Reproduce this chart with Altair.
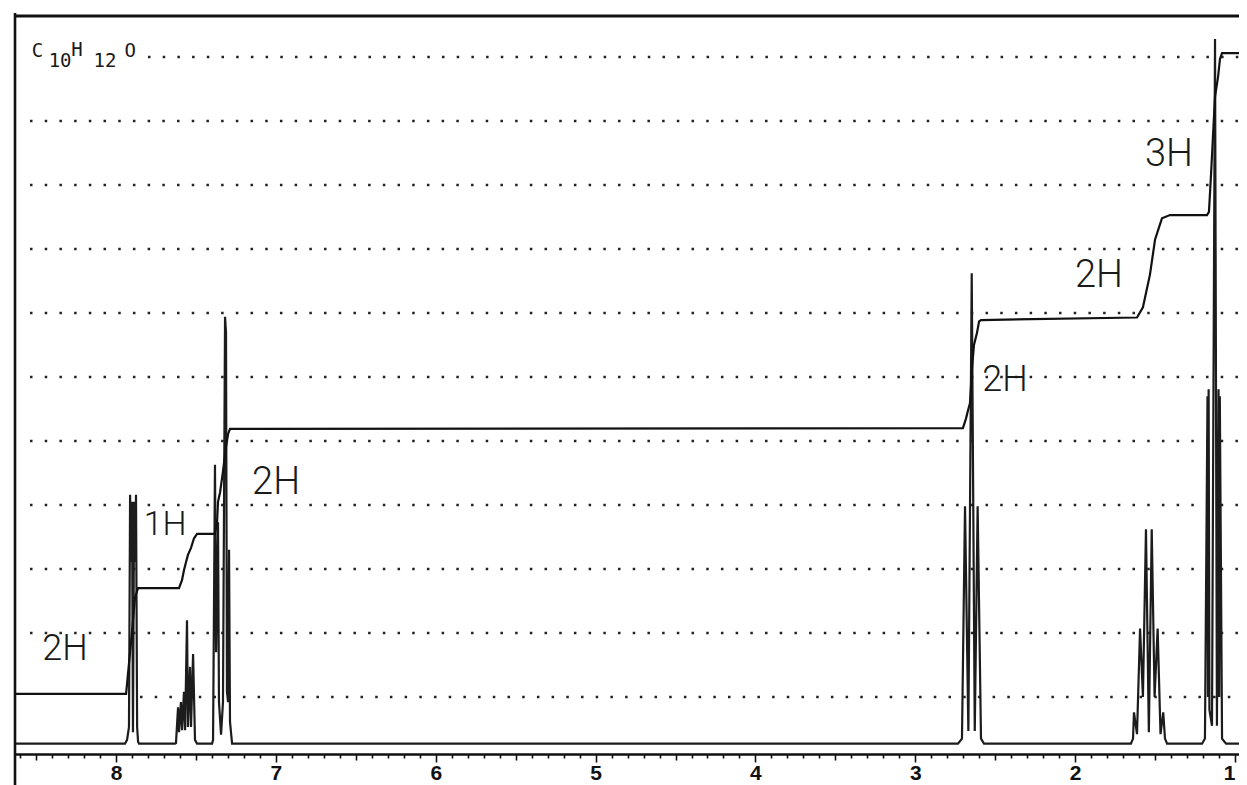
import altair as alt
import pandas as pd

# ---------------- data ----------------
# 1H NMR spectrum trace (chemical shift in ppm, intensity in grid units)
spec_ppm = [8.632, 7.944, 7.931, 7.919, 7.912, 7.906, 7.900, 7.894, 7.887, 7.881, 7.875, 7.868, 7.862, 7.856,
            7.631, 7.625, 7.612, 7.606, 7.594, 7.587, 7.575, 7.568, 7.556, 7.550, 7.537, 7.531, 7.518, 7.506, 7.493,
            7.399, 7.393, 7.381, 7.374, 7.362, 7.356, 7.343, 7.331, 7.318, 7.312, 7.306, 7.299, 7.293, 7.287, 7.274,
            2.733, 2.708, 2.689, 2.668, 2.647, 2.628, 2.610, 2.589, 2.570,
            1.651, 1.638, 1.632, 1.613, 1.594, 1.576, 1.557, 1.539, 1.521, 1.503, 1.484, 1.466, 1.449, 1.438, 1.425,
            1.206, 1.188, 1.172, 1.169, 1.165, 1.160, 1.144, 1.125, 1.113, 1.103, 1.099, 1.095, 1.081, 1.056, 0.975]
spec_int = [0.27, 0.27, 0.33, 0.53, 4.16, 3.11, 4.05, 0.45, 4.05, 3.11, 4.16, 0.53, 0.30, 0.27,
            0.27, 0.28, 0.84, 0.45, 0.92, 0.48, 1.08, 0.48, 2.20, 0.53, 1.47, 0.53, 1.67, 0.33, 0.27,
            0.27, 0.33, 4.63, 1.70, 3.73, 0.92, 0.41, 0.92, 6.94, 6.70, 1.08, 0.92, 3.30, 0.61, 0.27,
            0.27, 0.35, 3.98, 0.47, 7.62, 0.47, 3.98, 0.35, 0.27,
            0.27, 0.35, 0.76, 0.42, 2.07, 1.00, 3.62, 0.45, 3.62, 1.00, 2.07, 0.42, 0.76, 0.35, 0.27,
            0.27, 0.35, 5.70, 1.00, 5.81, 0.80, 0.55, 11.28, 0.55, 5.81, 1.00, 5.70, 0.35, 0.27, 0.27]

# integral trace
integ_ppm = [8.632, 7.937, 7.906, 7.881, 7.862, 7.606, 7.587, 7.575, 7.562, 7.550, 7.531, 7.512, 7.493,
             7.381, 7.368, 7.362, 7.349, 7.331, 7.312, 7.299, 7.287,
             2.702, 2.683, 2.670, 2.658, 2.645, 2.633, 2.614, 2.601, 2.589,
             1.613, 1.576, 1.532, 1.500, 1.457, 1.407,
             1.175, 1.163, 1.150, 1.138, 1.125, 1.106, 1.094, 1.081, 0.975]
integ_val = [1.05, 1.05, 1.86, 2.56, 2.70, 2.70, 2.83, 2.98, 3.11, 3.22, 3.33, 3.48, 3.55,
             3.55, 3.73, 4.05, 4.20, 4.52, 4.91, 5.11, 5.19,
             5.20, 5.35, 5.48, 5.59, 6.14, 6.50, 6.69, 6.87, 6.89,
             6.93, 7.09, 7.60, 8.15, 8.48, 8.53,
             8.53, 8.58, 9.16, 9.75, 10.38, 10.69, 10.97, 11.06, 11.06]

# dotted integration grid
grid_level = [1, 2, 3, 4, 5, 6, 7, 8, 9, 10, 11]
grid_start = [7.85, 8.538, 8.538, 8.538, 8.538, 8.538, 8.538, 8.538, 8.538, 8.538, 7.80]
grid_end = 0.975

# handwritten integration labels
label_text = ["2H", "1H", "2H", "2H", "2H", "3H"]
label_ppm = [8.319, 7.693, 6.999, 2.439, 1.851, 1.413]
label_int = [1.75, 3.69, 4.34, 5.95, 7.58, 9.47]
label_size = [36, 34, 38, 36, 38, 38]

# molecular formula, typed in pieces (subscripts set lower)
formula_text = ["C", "10", "H", "12", "O"]
formula_ppm = [8.491, 8.350, 8.244, 8.069, 7.912]
formula_int = [11.09, 10.94, 11.11, 10.94, 11.09]

tick_labels = [8, 7, 6, 5, 4, 3, 2, 1]
minor_ticks = [round(1.0 + 0.1 * i, 1) for i in range(77)]

X_DOMAIN = [0.975, 8.632]
Y_DOMAIN = [0.109, 11.641]

# ---------------- chart ----------------
spec_df = pd.DataFrame({"ppm": spec_ppm, "intensity": spec_int, "idx": range(len(spec_ppm))})
integ_df = pd.DataFrame({"ppm": integ_ppm, "value": integ_val, "idx": range(len(integ_ppm))})
grid_df = pd.DataFrame({"level": grid_level, "start": grid_start, "end": [grid_end] * len(grid_level)})
label_df = pd.DataFrame({"ppm": label_ppm, "intensity": label_int, "text": label_text, "size": label_size})
formula_df = pd.DataFrame({"ppm": formula_ppm, "intensity": formula_int, "text": formula_text})

xs = alt.Scale(domain=X_DOMAIN, reverse=True, nice=False, zero=False)
ys = alt.Scale(domain=Y_DOMAIN, nice=False, zero=False)

int_test = "abs(datum.value - round(datum.value)) < 0.001"
half_test = "abs(datum.value - round(datum.value)) > 0.499"

x_axis = alt.Axis(
    values=minor_ticks,
    labelExpr=f"{int_test} ? format(datum.value, 'd') : ''",
    tickSize={"condition": [{"test": int_test, "value": 8}, {"test": half_test, "value": 6}], "value": 4},
    labelAlign={"condition": {"test": "datum.value < 1.05", "value": "right"}, "value": "center"},
    title=None,
    grid=False,
    domainColor="#111111",
    domainWidth=2.5,
    tickColor="#111111",
    tickWidth=1.6,
    labelFont="Liberation Sans",
    labelFontSize=21,
    labelFontWeight="bold",
    labelColor="#111111",
    labelPadding=0,
    labelOverlap=False,
    labelFlush=False,
    labelBound=False,
)

X = lambda f: alt.X(f"{f}:Q", scale=xs, axis=x_axis)
Yq = lambda f: alt.Y(f"{f}:Q", scale=ys, axis=None)

grid = alt.Chart(grid_df).mark_rule(
    color="#222222", strokeWidth=2.4, strokeDash=[2.5, 12.2]
).encode(x=X("start"), x2="end:Q", y=Yq("level"))

spectrum = alt.Chart(spec_df).mark_line(
    color="#1c1c1c", strokeWidth=2.2, strokeJoin="miter", interpolate="linear"
).encode(x=X("ppm"), y=Yq("intensity"), order="idx:Q")

integral = alt.Chart(integ_df).mark_line(
    color="#111111", strokeWidth=2.2, interpolate="linear"
).encode(x=X("ppm"), y=Yq("value"), order="idx:Q")

labels = alt.Chart(label_df).mark_text(
    font="Roboto", fontWeight=300, color="#1a1a1a", align="center", baseline="middle"
).encode(x=X("ppm"), y=Yq("intensity"), text="text:N", size=alt.Size("size:Q", scale=None, legend=None))

formula = alt.Chart(formula_df).mark_text(
    font="DejaVu Sans Mono", fontSize=19, color="#1a1a1a", align="center", baseline="middle"
).encode(x=X("ppm"), y=Yq("intensity"), text="text:N")

# frame lines (top and left border of the chart paper)
top_border = alt.Chart(pd.DataFrame({"a": [0]})).mark_rule(color="#111111", strokeWidth=3).encode(
    x=alt.value(0), x2=alt.value(1224), y=alt.value(0)
)
left_border = alt.Chart(pd.DataFrame({"a": [0]})).mark_rule(color="#111111", strokeWidth=2.6).encode(
    x=alt.value(0), y=alt.value(-3), y2=alt.value(769)
)

chart = alt.layer(grid, spectrum, integral, labels, formula, top_border, left_border).properties(
    width=1224,
    height=738,
    padding={"left": 7, "top": 8, "right": 0, "bottom": 31},
    autosize=alt.AutoSizeParams(type="none"),
    background="white",
).configure_view(stroke=None)

chart.save("out.html", embed_options={"renderer": "svg", "actions": False})
